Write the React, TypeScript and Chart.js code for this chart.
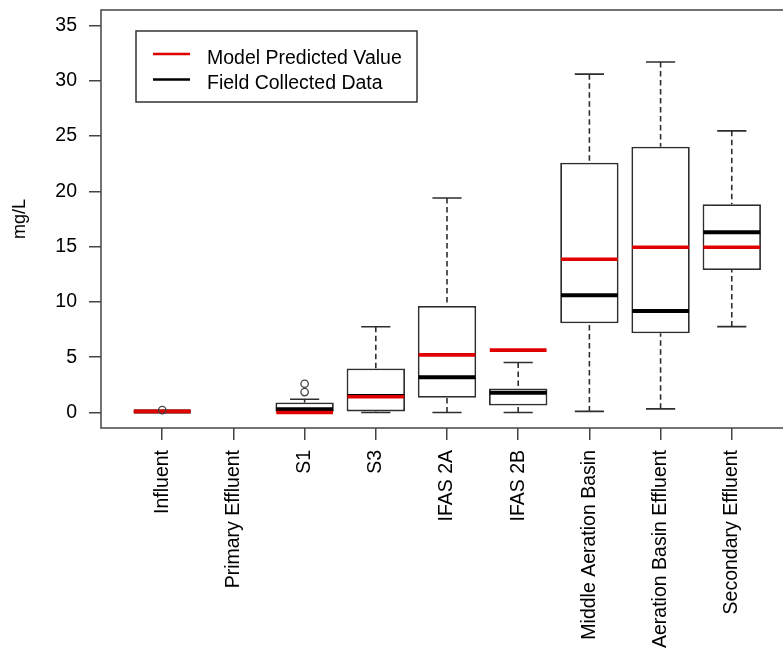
import React, { useEffect, useRef } from 'react';
import { Chart, registerables } from 'chart.js';

Chart.register(...registerables);

// ---------- data ----------
const categories = [
  'Influent',
  'Primary Effluent',
  'S1',
  'S3',
  'IFAS 2A',
  'IFAS 2B',
  'Middle Aeration Basin',
  'Aeration Basin Effluent',
  'Secondary Effluent',
];
const whiskerLow: (number | null)[] = [0.05, null, 0.0, 0.0, 0.0, 0.0, 0.1, 0.33, 7.77];
const quartile1: (number | null)[] = [0.08, null, 0.0, 0.1, 1.33, 0.63, 8.07, 7.17, 12.89];
const fieldMedian: (number | null)[] = [0.1, null, 0.3, 1.5, 3.2, 1.78, 10.6, 9.19, 16.3];
const quartile3: (number | null)[] = [0.12, null, 0.9, 3.98, 9.64, 2.17, 22.58, 24.03, 18.83];
const whiskerHigh: (number | null)[] = [0.15, null, 1.2, 7.75, 19.4, 4.52, 30.6, 31.7, 25.47];
const modelPredicted: (number | null)[] = [0.1, null, 0.0, 1.42, 5.21, 5.64, 13.86, 14.94, 14.94];
const outlierCategoryIndex = [0, 2, 2];
const outlierValue = [0.22, 2.6, 1.85];
const yTickValues = [0, 5, 10, 15, 20, 25, 30, 35];

const RED = '#e00000';
const INK = '#000000';
const LINE = '#2e2e2e';
const FONT = '"Liberation Sans", Arial, Helvetica, sans-serif';

const present = categories.map((_, i) => i).filter((i) => quartile1[i] != null);

const whiskerPlugin = {
  id: 'rWhiskers',
  beforeDatasetsDraw(chart: any) {
    const { ctx } = chart;
    const xs = chart.scales.x;
    const ys = chart.scales.y;
    const meta = chart.getDatasetMeta(0);
    ctx.save();
    ctx.strokeStyle = LINE;
    ctx.lineWidth = 1.6;
    present.forEach((i, j) => {
      const el = meta.data[j];
      const w = el ? el.width : 56;
      const px = xs.getPixelForValue(i + 1);
      const lo = ys.getPixelForValue(whiskerLow[i] as number);
      const hi = ys.getPixelForValue(whiskerHigh[i] as number);
      const b1 = ys.getPixelForValue(quartile1[i] as number);
      const b3 = ys.getPixelForValue(quartile3[i] as number);
      ctx.setLineDash([5.5, 3.5]);
      ctx.beginPath();
      ctx.moveTo(px, hi);
      ctx.lineTo(px, b3);
      ctx.moveTo(px, lo);
      ctx.lineTo(px, b1);
      ctx.stroke();
      ctx.setLineDash([]);
      ctx.beginPath();
      ctx.moveTo(px - w / 4, hi);
      ctx.lineTo(px + w / 4, hi);
      ctx.moveTo(px - w / 4, lo);
      ctx.lineTo(px + w / 4, lo);
      ctx.stroke();
    });
    ctx.restore();
  },
};

const framePlugin = {
  id: 'rFrame',
  afterDraw(chart: any) {
    const { ctx, chartArea } = chart;
    ctx.save();
    ctx.strokeStyle = '#444';
    ctx.lineWidth = 1.5;
    ctx.strokeRect(chartArea.left, chartArea.top, chartArea.right - chartArea.left, chartArea.bottom - chartArea.top);
    ctx.restore();
  },
};

const legendPlugin = {
  id: 'rLegend',
  afterDraw(chart: any) {
    const { ctx, chartArea } = chart;
    const x0 = chartArea.left + 35;
    const y0 = chartArea.top + 21;
    const w = 281;
    const h = 71;
    ctx.save();
    ctx.fillStyle = '#fff';
    ctx.fillRect(x0, y0, w, h);
    ctx.strokeStyle = '#333';
    ctx.lineWidth = 1.5;
    ctx.strokeRect(x0, y0, w, h);
    const items = [chart.data.datasets[2], chart.data.datasets[1]];
    items.forEach((ds: any, k: number) => {
      const ly = y0 + 23 + k * 25.5;
      ctx.strokeStyle = ds.borderColor;
      ctx.lineWidth = 2.6;
      ctx.beginPath();
      ctx.moveTo(x0 + 17, ly);
      ctx.lineTo(x0 + 54, ly);
      ctx.stroke();
      ctx.fillStyle = INK;
      ctx.font = `19.5px ${FONT}`;
      ctx.textBaseline = 'alphabetic';
      ctx.textAlign = 'left';
      ctx.fillText(ds.label, x0 + 71, ly + 9.8);
    });
    ctx.restore();
  },
};

const zeroPadding = (s: any) => {
  s.paddingTop = 0;
  s.paddingBottom = 0;
  s.paddingLeft = 0;
  s.paddingRight = 0;
};

export default function App() {
  const ref = useRef<HTMLCanvasElement | null>(null);

  useEffect(() => {
    document.body.style.margin = '0';
    const canvas = ref.current;
    if (!canvas) return;

    const gridStyle = {
      drawOnChartArea: false,
      drawTicks: true,
      tickLength: 12,
      color: '#444',
      lineWidth: 1.5,
      offset: false,
    };

    const chart = new Chart(canvas, {
      type: 'bar',
      data: {
        datasets: [
          {
            type: 'bar',
            label: 'Box',
            data: present.map((i) => ({ x: i + 1, y: [quartile1[i], quartile3[i]] })) as any,
            backgroundColor: '#ffffff',
            borderColor: LINE,
            borderWidth: 1.8,
            borderSkipped: false,
            barPercentage: 0.82,
            categoryPercentage: 1,
            order: 5,
          } as any,
          {
            type: 'scatter',
            label: 'Field Collected Data',
            data: present.map((i) => ({ x: i + 1, y: fieldMedian[i] })),
            pointStyle: 'line',
            pointRadius: 28.4,
            pointBorderWidth: 4,
            borderColor: INK,
            backgroundColor: INK,
            order: 3,
          } as any,
          {
            type: 'scatter',
            label: 'Model Predicted Value',
            data: present.map((i) => ({ x: i + 1, y: modelPredicted[i] })),
            pointStyle: 'line',
            pointRadius: 28.4,
            pointBorderWidth: 3.6,
            borderColor: RED,
            backgroundColor: RED,
            order: 2,
          } as any,
          {
            type: 'scatter',
            label: 'Outliers',
            data: outlierValue.map((v, k) => ({ x: outlierCategoryIndex[k] + 1, y: v })),
            pointStyle: 'circle',
            pointRadius: 3.7,
            pointBorderWidth: 1.3,
            borderColor: '#444',
            backgroundColor: 'rgba(0,0,0,0)',
            order: 1,
          } as any,
        ],
      },
      options: {
        animation: false,
        responsive: false,
        events: [],
        layout: { autoPadding: false, padding: { top: 10, right: 7, left: 0, bottom: 0 } },
        plugins: {
          legend: { display: false },
          tooltip: { enabled: false },
        },
        scales: {
          x: {
            type: 'linear',
            min: 0.14,
            max: 9.86,
            offset: false,
            afterBuildTicks: (s: any) => {
              s.ticks = categories.map((_, i) => ({ value: i + 1 }));
            },
            afterFit: (s: any) => {
              s.height = 220;
              zeroPadding(s);
            },
            grid: gridStyle,
            border: { display: false },
            ticks: {
              autoSkip: false,
              minRotation: 90,
              maxRotation: 90,
              padding: 10,
              color: INK,
              font: { family: FONT, size: 19.5 },
              callback: (v: any) => categories[Math.round(Number(v)) - 1] ?? '',
            },
          },
          y: {
            type: 'linear',
            min: -1.4,
            max: 36.4,
            offset: false,
            afterBuildTicks: (s: any) => {
              s.ticks = yTickValues.map((v) => ({ value: v }));
            },
            afterFit: (s: any) => {
              s.width = 101;
              zeroPadding(s);
            },
            grid: gridStyle,
            border: { display: false },
            ticks: {
              padding: 12,
              color: INK,
              font: { family: FONT, size: 19.5 },
              callback: (v: any) => String(v),
            },
            title: {
              display: true,
              text: 'mg/L',
              color: INK,
              font: { family: FONT, size: 18 },
              padding: { top: 9, bottom: 0 },
            },
          },
        },
      } as any,
      plugins: [whiskerPlugin, framePlugin, legendPlugin],
    });

    return () => chart.destroy();
  }, []);

  return (
    <div style={{ position: 'absolute', left: 0, top: 0, width: 783, height: 648, overflow: 'hidden', background: '#fff' }}>
      <canvas ref={ref} width={800} height={648} style={{ width: 800, height: 648, display: 'block' }} />
    </div>
  );
}
